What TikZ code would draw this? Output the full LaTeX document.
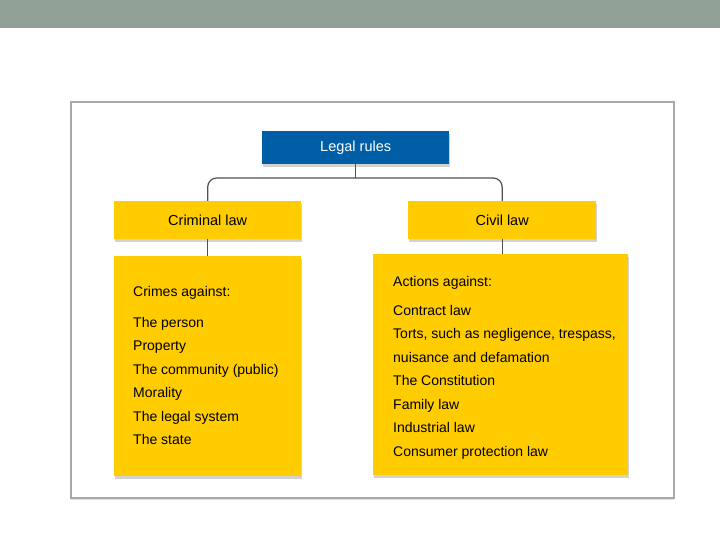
\documentclass[tikz,border=0pt]{standalone}
\usepackage{fontspec}
\setmainfont{Liberation Sans}
\usetikzlibrary{shadows}

\definecolor{bandgray}{RGB}{146,161,150}
\definecolor{rulesblue}{RGB}{0,94,166}
\definecolor{lawyellow}{RGB}{255,204,0}
\definecolor{framegray}{RGB}{168,168,168}
\definecolor{linkgray}{RGB}{80,80,80}

\tikzset{
  lawbox/.style={rectangle, fill=lawyellow, inner sep=0pt, anchor=north west,
    drop shadow={opacity=0.35, shadow xshift=1pt, shadow yshift=-2.5pt}},
  headbox/.style={lawbox, fill=rulesblue, text=white},
  listtext/.style={anchor=north west, align=left, inner sep=0pt,
    font=\fontsize{14}{23.5}\selectfont},
  link/.style={draw=linkgray, line width=1.2pt}
}

\begin{document}
\begin{tikzpicture}[x=1pt,y=-1pt,font=\fontsize{14.5}{17}\selectfont]
			\useasboundingbox (0,0) rectangle (720,540);
			\fill[bandgray] (0,0) rectangle (720,28);
			
			% outer frame
			\node[rectangle, draw=framegray, line width=1.6pt, fill=white, inner sep=0pt, anchor=north west,
			  minimum width=603pt, minimum height=396pt,
			  drop shadow={opacity=0.25, shadow xshift=0pt, shadow yshift=-2pt}] (frame) at (70,101) {};
			
			\node[headbox, minimum width=187pt, minimum height=33pt] (rules) at (262,131) {Legal rules};
			
			\node[lawbox, minimum width=187pt, minimum height=38pt] (crim) at (114,201) {Criminal law};
			\node[lawbox, minimum width=188pt, minimum height=38pt] (civ) at (408,201) {Civil law};
			
			\node[lawbox, minimum width=187pt, minimum height=220pt] (crimes) at (114,256) {};
			\node[lawbox, minimum width=255pt, minimum height=221pt] (acts) at (373,254) {};
			
			\coordinate (fork) at (rules.south |- 0,178);
			\draw[link] (rules.south) -- (fork);
			\draw[link, rounded corners=9pt] (crim.north) |- (fork) -| (civ.north);
			\draw[link] (crim.south) -- (crimes.north);
			\draw[link] (civ.south) -- (civ.south |- acts.north);
			
			\node[listtext] (crimestext) at (133,286) {Crimes against:\\[7.5pt]
			  The person\\ Property\\ The community (public)\\ Morality\\ The legal system\\ The state};
			
			\node[listtext] (actstext) at (393,276) {Actions against:\\[5.5pt]
			  Contract law\\ Torts, such as negligence, trespass,\\ nuisance and defamation\\
			  The Constitution\\ Family law\\ Industrial law\\ Consumer protection law};
		\end{tikzpicture}
\end{document}
